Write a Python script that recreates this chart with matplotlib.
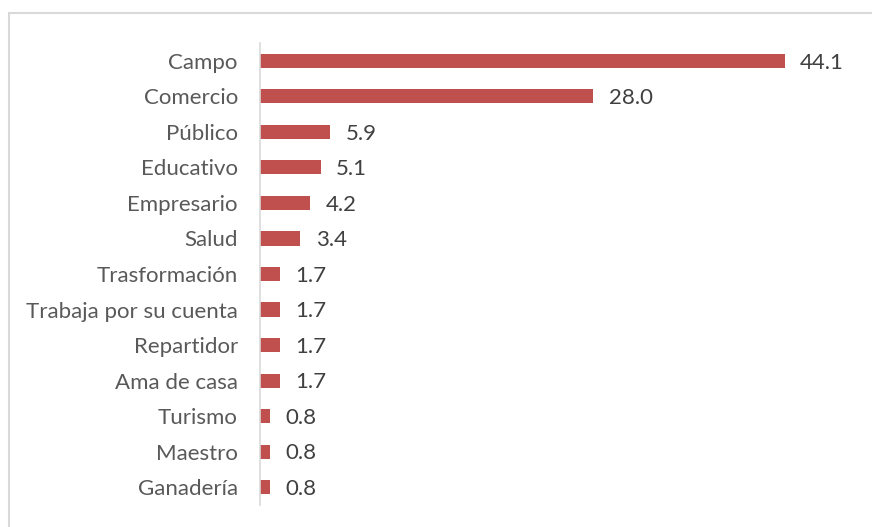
import matplotlib.pyplot as plt
from matplotlib.patches import Rectangle

categories = ["Campo", "Comercio", "Público", "Educativo", "Empresario", "Salud",
              "Trasformación", "Trabaja por su cuenta", "Repartidor", "Ama de casa",
              "Turismo", "Maestro", "Ganadería"]
values = [44.1, 28.0, 5.9, 5.1, 4.2, 3.4, 1.7, 1.7, 1.7, 1.7, 0.8, 0.8, 0.8]

W, H = 872, 527
fig = plt.figure(figsize=(W / 100, H / 100), dpi=100)
fig.patch.set_facecolor("white")

# outer chart border (Excel style), runs off the right/bottom edge
fig.patches.append(Rectangle((9 / W, -0.05), 1.0, 1 - 13 / H + 0.05,
                             transform=fig.transFigure, fill=False,
                             edgecolor="#D9D9D9", linewidth=1.5))

ax = fig.add_axes([260 / W, 1 - 505 / H, (855 - 260) / W, (505 - 43) / H])
y = list(range(len(categories)))
ax.barh(y, values, height=0.4, color="#C0504D")
ax.set_ylim(len(categories) - 0.5, -0.5)
ax.set_xlim(0, 50)

for yi, v in zip(y, values):
    ax.text(v + 1.3, yi + 0.05, f"{v:.1f}", va="center", ha="left",
            fontsize=16, color="#404040", family="Lato")

ax.set_yticks(y)
ax.set_yticklabels(categories, fontsize=16, color="#595959", family="Lato")
ax.tick_params(axis="y", length=0, pad=16)
ax.set_xticks([])
for s in ["top", "right", "bottom"]:
    ax.spines[s].set_visible(False)
ax.spines["left"].set_color("#D9D9D9")
ax.spines["left"].set_linewidth(1.2)

fig.savefig("out.png", dpi=100)
